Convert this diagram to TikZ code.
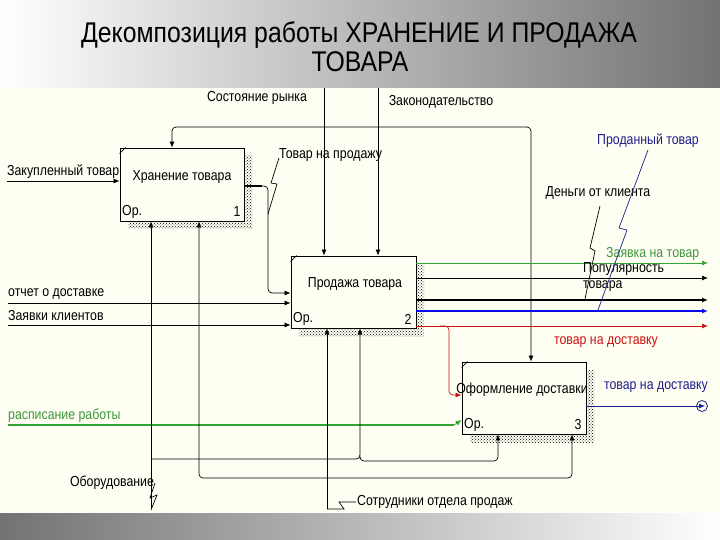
\documentclass[tikz,border=0pt]{standalone}
\usepackage{fontspec}
\setmainfont{Liberation Sans}
\newfontfamily\dfont{Liberation Sans}[FakeStretch=0.85]
\newfontfamily\tfont{Liberation Sans}[FakeStretch=0.87]
\usetikzlibrary{arrows.meta,patterns}
\definecolor{cream}{RGB}{255,254,242}
\definecolor{igreen}{RGB}{50,165,50}
\definecolor{tgreen}{RGB}{60,150,60}
\definecolor{ired}{RGB}{200,20,20}
\definecolor{iblue}{RGB}{10,10,235}
\definecolor{navy}{RGB}{30,30,140}
\begin{document}
\begin{tikzpicture}[x=1pt,y=-1pt,
  lbl/.style={inner sep=0pt, font=\dfont\fontsize{14.5}{16}\selectfont},
  ttl/.style={inner sep=0pt, font=\tfont\fontsize{28.5}{30}\selectfont, align=center},
  box/.style={draw, line width=0.8pt, fill=cream, minimum width=124pt, minimum height=73pt, inner sep=0pt},
  shadowbox/.style={pattern=crosshatch dots, pattern color=black},
  ln/.style={line width=0.7pt},
  arr/.style={ln, -{Latex[length=6pt,width=5pt]}},
  rc/.style={rounded corners=4pt}]
\useasboundingbox (0,0) rectangle (720,540);
% backgrounds
\shade[left color=white, right color=black!55] (0,0) rectangle (720,88);
\fill[cream] (0,88) rectangle (720,513);
\shade[left color=black!55, right color=white] (0,513) rectangle (720,540);
% title
\node[ttl] (title) at (359,35) {Декомпозиция работы ХРАНЕНИЕ И ПРОДАЖА};
\node[ttl] (title2) at (360,62) {ТОВАРА};

% shadows
\fill[shadowbox] (128,156) rectangle (252,229);
\fill[shadowbox] (299,264) rectangle (424,336);
\fill[shadowbox] (470,370) rectangle (594,442);
% boxes
\node[box] (b1) at (182,184.5) {};
\node[box, minimum width=125pt, minimum height=72pt] (b2) at (353.5,292) {};
\node[box, minimum height=72pt] (b3) at (524,398) {};
\draw[ln] (b1.north west) ++(0,6) -- ++(6,-6);
\draw[ln] (b2.north west) ++(0,6) -- ++(6,-6);
\draw[ln] (b3.north west) ++(0,6) -- ++(6,-6);
% box texts
\node[lbl] (b1t) at (182,177) {Хранение товара};
\node[lbl, anchor=west] (b1o) at (122,212) {Ор.};
\node[lbl] (b1n) at (237,212) {1};
\node[lbl] (b2t) at (355,284) {Продажа товара};
\node[lbl, anchor=west] (b2o) at (293,319) {Ор.};
\node[lbl] (b2n) at (408,319) {2};
\node[lbl] (b3t) at (522,390) {Оформление доставки};
\node[lbl, anchor=west] (b3o) at (464,425) {Ор.};
\node[lbl] (b3n) at (578,425) {3};

% top controls
\coordinate (c1) at (324,88);
\coordinate (c2) at (378,88);
\node[lbl] (lc1) at (257,98) {Состояние рынка};
\node[lbl] (lc2) at (441,102) {Законодательство};
\draw[arr] (c1) -- (324,0 |- b2.north);
\draw[arr] (c2) -- (378,0 |- b2.north);
\draw[arr, rc] (378,127) -| (172,0 |- b1.north);
\draw[arr, rc] (378,127) -| (531,0 |- b3.north);

% box1 output to box2
\draw[arr, rc] (b1.east |- 0,186) -| (268,293) -- (b2.west |- 0,293);
\draw[line width=1.6pt] (b1.east |- 0,186) -- (262,186);
\node[lbl, anchor=west] (lo1) at (279,155) {Товар на продажу};
\draw[ln] (279,158) -- (271,183) -- (277,184) -- (268,214);

% inputs
\coordinate (i1) at (7,181);
\coordinate (i2) at (8,303);
\coordinate (i3) at (8,325);
\coordinate (i4) at (8,425);
\node[lbl, anchor=west] (li1) at (7,172) {Закупленный товар};
\node[lbl, anchor=west] (li2) at (8,294) {отчет о доставке};
\node[lbl, anchor=west] (li3) at (8,316) {Заявки клиентов};
\node[lbl, anchor=west, text=tgreen] (li4) at (8,416) {расписание работы};
\draw[arr] (i1) -- (b1.west |- i1);
\draw[arr] (i2) -- (b2.west |- i2);
\draw[arr] (i3) -- (b2.west |- i3);
\draw[igreen, line width=1.6pt] (i4) -- (454,425);
\draw[igreen, ln, -{Latex[length=6pt,width=5pt]}] (454,425) -- (b3.west |- 0,420);

% mechanisms
\coordinate (m1) at (151,508);
\coordinate (m2) at (327,509);
\node[lbl] (lm1) at (112,483) {Оборудование};
\node[lbl, anchor=west] (lm2) at (357,502) {Сотрудники отдела продаж};
\draw[arr] (m1) -- (151,0 |- b1.south);
\draw[arr, rc] (151,459) -- (360,459) -- (360,0 |- b2.south);
\draw[arr, rc] (360,459) -- (360,461) -| (498,0 |- b3.south);
\draw[ln] (155,483) -- (150,498) -- (157,495) -- (151,510);
\draw[arr] (m2) -- (327,0 |- b2.south);
\draw[arr, rc] (327,478) -| (199,0 |- b1.south);
\draw[arr, rc] (327,478) -| (572,0 |- b3.south);
\draw[ln] (m2) -- (344,509) -- (339,502) -- (356,502);

% outputs of box 2
\coordinate (o1) at (708,263);
\coordinate (o2) at (708,278);
\coordinate (o3) at (708,300);
\coordinate (o4) at (708,311);
\coordinate (o5) at (708,326);
\draw[igreen, ln, -{Latex[length=6pt,width=5pt]}] (b2.east |- o1) -- (o1);
\draw[arr] (b2.east |- o2) -- (o2);
\draw[line width=1.8pt, -{Latex[length=6pt,width=5pt]}] (b2.east |- o3) -- (o3);
\draw[iblue, line width=2pt, -{Latex[length=6pt,width=5pt]}] (b2.east |- o4) -- (o4);
\draw[ired, ln, -{Latex[length=6pt,width=5pt]}] (b2.east |- o5) -- (o5);
\draw[ired, ln, rc, -{Latex[length=6pt,width=5pt]}] (440,326) -| (449,395) -- (b3.west |- 0,395);
\node[lbl, anchor=west, text=tgreen] (lo2) at (606,254) {Заявка на товар};
\node[lbl, anchor=west, align=left] (lo3) at (583,277.5) {Популярность\\товара};
\node[lbl] (lo4) at (598,193) {Деньги от клиента};
\draw[ln] (600,206) -- (590,248) -- (595,251) -- (585,299);
\node[lbl, text=navy] (lo5) at (648,141) {Проданный товар};
\draw[navy, ln] (648,150) -- (619,228) -- (627,230) -- (598,310);
\node[lbl, text=ired] (lo6) at (606,342) {товар на доставку};

% output of box 3
\coordinate (o6) at (705,406);
\draw[navy, ln, -{Latex[length=6pt,width=5pt]}] (b3.east |- o6) -- (o6);
\draw[navy, line width=0.8pt] (702,406) circle (5.5pt);
\node[lbl, text=navy] (lo7) at (656,387) {товар на доставку};
\end{tikzpicture}
\end{document}
